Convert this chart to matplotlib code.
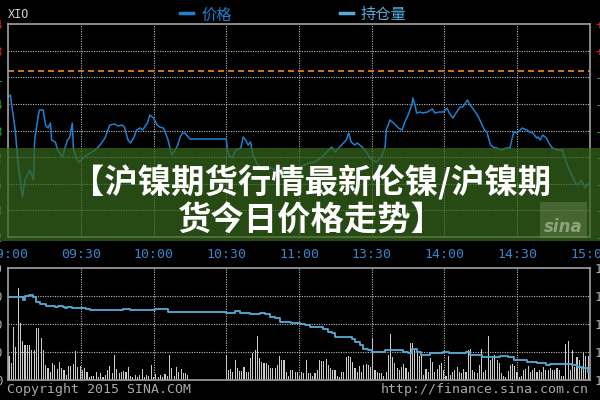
import matplotlib
matplotlib.use("Agg")
import numpy as np
import matplotlib.pyplot as plt
from matplotlib.patches import Rectangle
from matplotlib.lines import Line2D

plt.rcParams['font.family'] = ['Noto Sans CJK SC', 'DejaVu Sans']

# x axis = chart minutes from 09:00 (10:15-10:30 break kept, lunch collapsed)
time_ticks = [0, 30, 60, 90, 120, 150, 180, 210, 240]
time_labels = ['09:00', '09:30', '10:00', '10:30', '11:00', '13:30', '14:00', '14:30', '15:00']

prev_settle = 87216
price_range = (86552, 87404)

price_t = [0, 1, 1.5, 3, 4, 5, 6, 7, 8, 9, 10.5, 11, 12.5, 13, 14.5, 15.5, 16.5, 17.5, 18, 19.5,
           20.5, 22.5, 23.5, 24.5, 25.5, 26.5, 27, 28.5, 29.5, 31, 32.5, 34, 36, 38, 40, 42, 44, 45.5, 47, 48,
           49.5, 50.5, 52, 53, 54.5, 55.5, 57.5, 58.5, 60, 61.5, 62.5, 64, 64.5, 66, 67, 67.5, 69, 70, 71, 72,
           73, 75, 90, 90.5, 91, 92.5, 94, 96, 97, 98, 99, 100, 101, 102, 103, 105, 108.5, 112.5, 116.5, 120.5,
           124, 126.5, 129.5, 133.5, 135, 137.5, 139.5, 140.5, 141.5, 143, 144, 146, 148, 150, 152, 154, 155.5, 156, 157.5, 159,
           161, 162.5, 163.5, 165, 166.5, 167, 168, 168.5, 170, 171, 173, 175, 176, 178, 179.5, 181, 182, 183.5, 185, 186.5,
           187.5, 189.5, 190.5, 191.5, 193, 194, 195.5, 196.5, 197.5, 198, 199, 200, 201.5, 203.5, 205.5, 207, 208, 208.5, 210, 212,
           214, 215, 216.5, 218, 218.5, 219.5, 220.5, 222, 223.5, 224.5, 226.5, 228.5, 229.5, 231, 232.5, 234, 235, 236.5, 238, 239]
price = [87112, 87120, 87080, 86980, 86860, 86780, 86712, 86780, 86800, 86820, 86780, 86940, 87040, 87060, 87060, 87000, 86988, 87008, 86940, 86932,
         86900, 86872, 86908, 86940, 86952, 87008, 86900, 86860, 86852, 86868, 86880, 86888, 86900, 86920, 86948, 87000, 87004, 86996, 87000, 86992,
         86940, 86928, 86952, 86980, 86988, 86980, 87008, 87040, 87028, 87000, 86992, 86988, 86980, 86940, 86900, 86880, 86900, 86920, 86952, 86968,
         86968, 86944, 86944, 86900, 86880, 86868, 86900, 86908, 86952, 86940, 86920, 86932, 86880, 86860, 86840, 86820, 86828, 86812, 86820, 86832,
         86848, 86852, 86872, 86912, 86892, 86920, 86940, 86968, 86932, 86920, 86928, 86912, 86888, 86860, 86852, 86872, 86912, 86980, 87020, 87008,
         86988, 86980, 87008, 87040, 87080, 87108, 87072, 87048, 87052, 87048, 87052, 87064, 87048, 87052, 87052, 87068, 87048, 87028, 87052, 87072,
         87072, 87100, 87080, 87068, 87048, 87032, 87000, 86980, 86972, 86952, 86920, 86912, 86908, 86900, 86908, 86908, 86952, 86972, 86968, 86988,
         86980, 86972, 86968, 86948, 86952, 86940, 86960, 86948, 86920, 86908, 86900, 86900, 86872, 86832, 86800, 86768, 86760, 86780, 86748, 86764]

hold_range = (126000, 130480)
hold_t = [0, 5, 6, 7, 8.5, 10.5, 11.5, 13, 15.5, 17.5, 19.5, 20.5, 22.5, 23.5, 24.5, 26.5, 29.5, 32, 34, 38,
          46, 47.5, 50.5, 58.5, 60.5, 64.5, 66, 75, 90, 91, 93.5, 95.5, 100, 104, 106, 108, 110, 112, 114, 116.5,
          120.5, 122.5, 124.5, 128.5, 130, 132, 133.5, 135, 141, 142, 143, 145, 146.5, 148.5, 150, 154, 155.5, 157.5, 161.5, 163,
          165, 166.5, 168.5, 170.5, 174, 179.5, 182, 189, 190.5, 194.5, 195.5, 201.5, 203, 206, 208.5, 212.5, 214, 218, 222, 223.5,
          229, 232.5, 234.5, 236.5, 239]
hold = [129320, 129320, 129200, 129360, 129400, 129320, 129120, 129040, 128960, 128960, 128920, 128960, 128920, 128880, 128920, 128880, 128880, 128840, 128800, 128800,
        128800, 128840, 128800, 128800, 128840, 128840, 128720, 128720, 128680, 128680, 128760, 128680, 128640, 128680, 128640, 128520, 128480, 128320, 128320, 128280,
        128240, 128200, 128120, 128120, 128040, 127920, 127880, 127720, 127720, 127640, 127520, 127400, 127240, 127200, 127120, 127120, 127200, 127200, 127200, 127120,
        127080, 127240, 127120, 127000, 127080, 127120, 127080, 127120, 127000, 127000, 126920, 126920, 126960, 126920, 126800, 126800, 126720, 126680, 126600, 126640,
        126640, 126600, 126520, 126480, 126320]

vol_range = (0, 1120)
vol_am = [240, 170, 530, 330, 920, 570, 390, 350, 350, 350, 300, 300, 520, 520, 420, 300, 150, 120, 80, 170,
          150, 110, 180, 120, 100, 50, 140, 140, 160, 290, 130, 140, 100, 120, 80, 30, 40, 40, 80, 30,
          70, 30, 50, 100, 140, 70, 250, 110, 70, 80, 90, 80, 130, 40, 30, 50, 30, 50, 110, 30,
          50, 40, 150, 30, 60, 30, 50, 30, 60, 40, 250, 120, 40, 130, 80, 110, 70, 70, 50]
vol_pm = [240, 100, 110, 80, 200, 120, 90, 90, 130, 80, 80, 220, 270, 300, 440, 220, 180, 170, 170, 150,
          120, 120, 120, 150, 240, 200, 200, 80, 40, 100, 100, 80, 80, 40, 80, 70, 200, 70, 70, 40,
          70, 100, 200, 190, 190, 210, 150, 120, 100, 100, 40, 30, 80, 80, 230, 240, 230, 180, 120, 80,
          140, 80, 150, 160, 150, 130, 420, 100, 80, 70, 70, 40, 80, 250, 460, 230, 170,
          120, 100, 130, 160, 120, 80, 370, 370, 300, 270, 240, 250, 50, 110, 80, 220, 180, 80, 110, 150,
          170, 100, 40, 240, 50, 80, 100, 130, 80, 70, 110, 80, 300, 310, 100, 80, 70, 150, 310, 80,
          100, 440, 200, 220, 250, 200, 170, 70, 40, 30, 90, 150, 160, 140, 80, 30, 40, 100, 110, 140,
          80, 100, 120, 80, 100, 80, 130, 100, 100, 120, 100, 100, 120, 100, 40, 40, 360, 390, 100, 300,
          130, 230, 200, 120, 270, 240, 240]

BLUE = '#1f80d0'
LBLUE = '#55acd8'
GRID = '#bcbcbc'
FRAME = '#a0a0a0'
MONO = 'DejaVu Sans Mono'

fig = plt.figure(figsize=(6, 4), dpi=100, facecolor='black')
ax1 = fig.add_axes([8/600, 1-237/400, 582/600, 213/400])
ax2 = fig.add_axes([8/600, 1-380/400, 582/600, 112/400])


def style(ax):
    ax.set_facecolor('black')
    for s in ax.spines.values():
        s.set_color(FRAME)
        s.set_linewidth(1.2)


# upper panel: price
style(ax1)
ax1.set_xlim(0, 240)
ax1.set_ylim(*price_range)
grid1 = np.linspace(price_range[0], price_range[1], 9)
for t in time_ticks[1:-1]:
    ax1.axvline(t, color=GRID, lw=0.8, ls=(0, (1, 1.2)))
for g in grid1[1:-1]:
    ax1.axhline(g, color=GRID, lw=0.8, ls=(0, (1, 1.2)))
ax1.axhline(prev_settle, color='#f08a24', lw=1.2, ls=(0, (3.6, 2.4)))
ax1.plot(price_t, price, color=BLUE, lw=1.1)

ax1.set_xticks(time_ticks)
ax1.set_xticklabels(time_labels)
ax1.tick_params(axis='x', length=0, pad=8, colors='#3a84cc', labelsize=9.5, labelfontfamily=MONO)
ax1.set_yticks(grid1)
ax1.set_yticklabels([f'{v:.0f}' for v in grid1])
ax1.tick_params(axis='y', length=0, pad=3.6, labelsize=9, labelfontfamily=MONO)
for v, lab in zip(grid1, ax1.get_yticklabels()):
    lab.set_color('#e02020' if v > prev_settle else '#20b020')

ax1r = ax1.twinx()
ax1r.set_ylim(*price_range)
ax1r.set_yticks(grid1)
ax1r.set_yticklabels([f'{(v - prev_settle) / prev_settle * 100:+.2f}%' for v in grid1])
ax1r.tick_params(axis='y', length=0, pad=3.6, labelsize=9, labelfontfamily=MONO)
for v, lab in zip(grid1, ax1r.get_yticklabels()):
    lab.set_color('#e02020' if v > prev_settle else '#20b020')
for s in ax1r.spines.values():
    s.set_visible(False)

# lower panel: volume + open interest
style(ax2)
ax2.set_xlim(0, 240)
ax2.set_ylim(*vol_range)
grid2 = np.linspace(vol_range[0], vol_range[1], 5)
for t in time_ticks[1:-1]:
    ax2.axvline(t, color=GRID, lw=0.8, ls=(0, (1, 1.2)))
for g in grid2[1:-1]:
    ax2.axhline(g, color=GRID, lw=0.8, ls=(0, (1, 1.2)))
am_pos = np.linspace(0.4, 74.2, len(vol_am))
pm_pos = np.linspace(90, 239.2, len(vol_pm))
ax2.bar(am_pos, vol_am, width=0.45, color='#cccccc')
ax2.bar(pm_pos, vol_pm, width=0.45, color='#cccccc')
ax2.set_xticks([])
ax2.set_yticks(grid2)
ax2.set_yticklabels([f'{v:.0f}' for v in grid2])
ax2.tick_params(axis='y', length=0, pad=3.6, labelsize=9, labelcolor='#b0b0b0', labelfontfamily=MONO)

ax2r = ax2.twinx()
ax2r.set_ylim(*hold_range)
ax2r.plot(hold_t, hold, color=LBLUE, lw=1.3, drawstyle='steps-post')
grid2r = np.linspace(hold_range[0], hold_range[1], 5)
ax2r.set_yticks(grid2r)
ax2r.set_yticklabels([f'{v:.0f}' for v in grid2r])
ax2r.tick_params(axis='y', length=0, pad=3.6, labelsize=9, labelcolor='#b0b0b0', labelfontfamily=MONO)
for s in ax2r.spines.values():
    s.set_visible(False)

# overlay in pixel coordinates: legend, footer, banner
ov = fig.add_axes([0, 0, 1, 1], zorder=10)
ov.set_xlim(0, 600)
ov.set_ylim(400, 0)
ov.axis('off')

ov.text(8, 15, 'XIO', color='#d0d0d0', fontsize=8.5, family=MONO, va='center')
ov.add_line(Line2D([180, 193], [13, 13], color=BLUE, lw=2.5))
ov.text(201, 15, '价格', color=BLUE, fontsize=11, va='center')
ov.add_line(Line2D([340, 353], [13, 13], color=LBLUE, lw=2.5))
ov.text(361, 15, '持仓量', color=LBLUE, fontsize=11, va='center')

ov.text(7, 389, 'Copyright 2015 SINA.COM', color='#a8a8a8', fontsize=9.5, family=MONO, va='center')
ov.text(589, 389, 'http://finance.sina.com.cn', color='#a8a8a8', fontsize=9.5, family=MONO,
        va='center', ha='right')

ov.add_patch(Rectangle((0, 148), 600, 93, facecolor='#37661c', alpha=0.72, lw=0))
ov.add_patch(Rectangle((540, 202), 47, 36, facecolor='#7f9a68', alpha=0.35, lw=0))
ov.text(563, 227, 'sina', color='#8fa27e', fontsize=12, fontweight='bold', style='italic',
        ha='center', va='center', family='DejaVu Sans')
ov.text(311, 183, '【沪镍期货行情最新伦镍/沪镍期', color='white', fontsize=24, fontweight='bold',
        ha='center', va='center')
ov.text(311, 221, '货今日价格走势】', color='white', fontsize=24, fontweight='bold',
        ha='center', va='center')

fig.savefig('out.png', dpi=100, facecolor='black')
